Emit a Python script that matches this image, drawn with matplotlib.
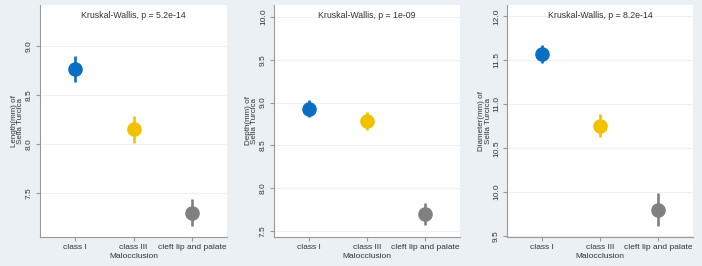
import matplotlib
matplotlib.use("Agg")
import matplotlib.pyplot as plt

plt.rcParams['font.family'] = ['Liberation Sans', 'DejaVu Sans']

categories = ["class I", "class III", "cleft lip and palate"]
colors = ["#0a6fc2", "#f2c200", "#808080"]

length_mean = [8.765, 8.15, 7.30]
length_lo = [8.63, 8.01, 7.16]
length_hi = [8.90, 8.29, 7.44]

depth_mean = [8.93, 8.785, 7.70]
depth_lo = [8.83, 8.685, 7.565]
depth_hi = [9.035, 8.89, 7.83]

diam_mean = [11.57, 10.75, 9.80]
diam_lo = [11.47, 10.63, 9.62]
diam_hi = [11.67, 10.89, 9.99]

titles = ["Kruskal-Wallis, p = 5.2e-14", "Kruskal-Wallis, p = 1e-09",
          "Kruskal-Wallis, p = 8.2e-14"]
ylabels = ["Length(mm) of\nSella Turcica", "Depth(mm) of\nSella Turcica",
           "Diameter(mm) of\nSella Turcica"]
yticks = [[7.5, 8.0, 8.5, 9.0], [7.5, 8.0, 8.5, 9.0, 9.5, 10.0],
          [9.5, 10.0, 10.5, 11.0, 11.5, 12.0]]
ylims = [(7.05, 9.42), (7.43, 10.14), (9.49, 12.13)]

series = [(length_mean, length_lo, length_hi),
          (depth_mean, depth_lo, depth_hi),
          (diam_mean, diam_lo, diam_hi)]

W, H = 702, 266
bg = "#eaf0f3"
fig = plt.figure(figsize=(W / 100, H / 100), dpi=100, facecolor=bg)

axes_px = [(40, 227), (274, 460), (507, 693)]
top, bottom = 5, 237

for i, (x0, x1) in enumerate(axes_px):
    wpx = x1 - x0
    ax = fig.add_axes([x0 / W, 1 - bottom / H, wpx / W, (bottom - top) / H])
    ax.set_facecolor("white")
    mean, lo, hi = series[i]
    for j in range(3):
        ax.plot([j, j], [lo[j], hi[j]], color=colors[j], lw=1.9, solid_capstyle='butt', zorder=2)
        ax.plot(j, mean[j], 'o', color=colors[j], ms=9.5, mec=colors[j], zorder=3)
    ax.set_xlim(-0.6, 2.6)
    ax.set_ylim(*ylims[i])
    ax.set_xticks(range(3))
    ax.set_xticklabels(categories, fontsize=6)
    ax.set_yticks(yticks[i])
    ax.set_yticklabels([f"{t:.1f}" for t in yticks[i]], fontsize=6, rotation=90, va='center')
    ax.grid(axis='y', color='#f0f0f0', lw=0.8)
    ax.set_axisbelow(True)
    for s in ['top', 'right']:
        ax.spines[s].set_visible(False)
    for s in ['left', 'bottom']:
        ax.spines[s].set_color('#999999')
        ax.spines[s].set_linewidth(0.8)
    ax.tick_params(axis='both', colors='#999999', length=3, width=0.8, labelcolor='#333333', pad=2)
    ax.set_xlabel("Malocclusion", fontsize=6, color='#333333', labelpad=1.5)
    ax.set_ylabel(ylabels[i], fontsize=5.8, color='#333333', linespacing=0.9)
    ax.yaxis.set_label_coords(-15.5 / wpx, 0.5)
    ax.text(0.5, 0.955, titles[i], transform=ax.transAxes, ha='center', va='center',
            fontsize=6.3, color='#333333')

fig.savefig("out.png", dpi=100, facecolor=bg)
